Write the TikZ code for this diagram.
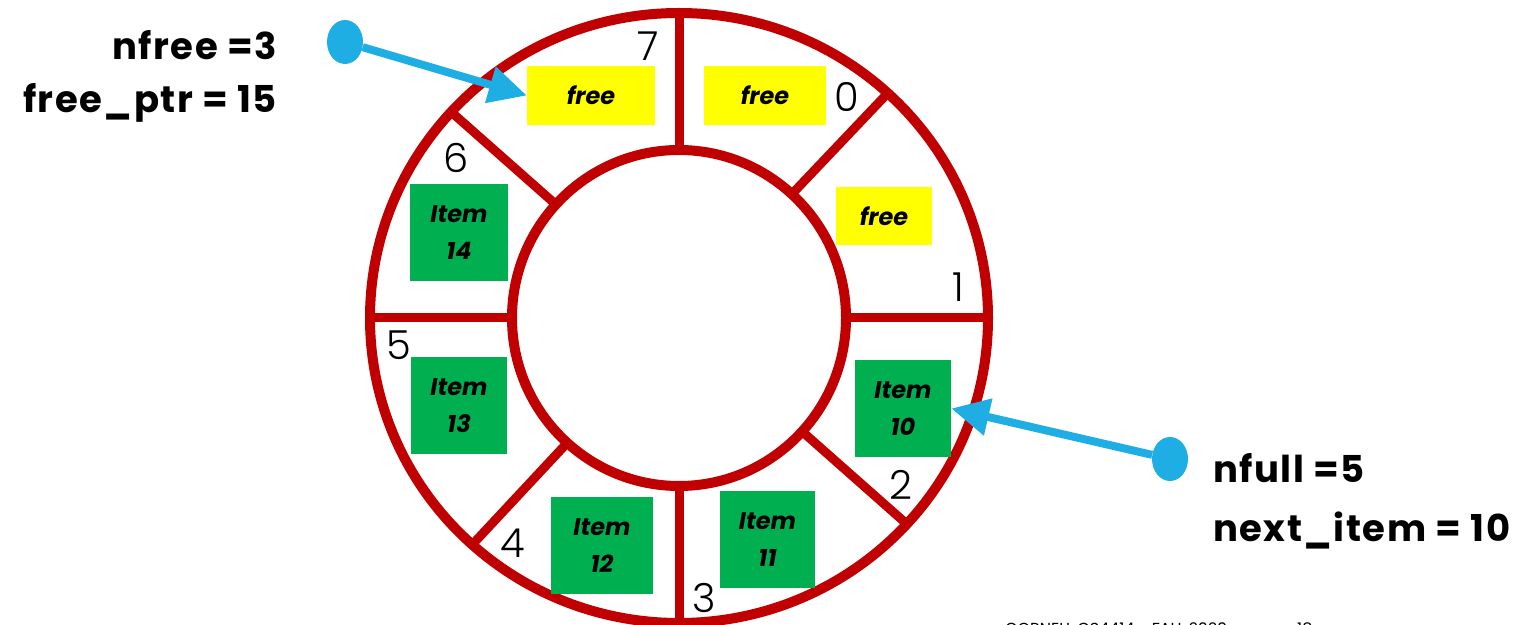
\documentclass[tikz,border=0pt]{standalone}
\usepackage{fontspec}
\setmainfont{Poppins}
\newfontfamily\numfont{Poppins Light}
\usetikzlibrary{arrows.meta,shapes.geometric}
\definecolor{ringred}{RGB}{192,0,0}
\definecolor{ptrblue}{RGB}{31,174,227}
\definecolor{itemgreen}{RGB}{0,176,80}
\definecolor{freeyellow}{RGB}{255,255,0}
\tikzset{
  ring/.style={draw=ringred, line width=10pt},
  freebox/.style={fill=freeyellow, inner sep=0pt, font=\fontsize{24}{28}\selectfont\bfseries\itshape},
  itembox/.style={fill=itemgreen, inner sep=0pt, align=center, font=\fontsize{24}{37}\selectfont\bfseries\itshape},
  slotnum/.style={font=\fontsize{40}{40}\selectfont\numfont, inner sep=0pt},
  ptrdot/.style={ellipse, fill=ptrblue, minimum width=36pt, minimum height=44pt, inner sep=0pt},
  ptrarrow/.style={draw=ptrblue, line width=8pt, -{Triangle[length=38pt,width=36pt]}},
  vartext/.style={font=\fontsize{37}{37}\selectfont\bfseries\addfontfeature{LetterSpace=4}, inner sep=0pt},
  foot/.style={font=\fontsize{16}{16}\selectfont, inner sep=0pt, anchor=base west}
}
\begin{document}
\begin{tikzpicture}[x=1pt,y=1pt]
\useasboundingbox (0,0) rectangle (1531,624);
\fill[white] (0,0) rectangle (1531,624);
% ring
\draw[ring] (679,306) ellipse [x radius=309, y radius=305];
\draw[ring] (679,306) ellipse [x radius=167, y radius=168];
\foreach \a in {90,47.5,0,-42.5,-90,-132,180,137.5}
  \draw[ring, line width=9pt] ({679+167*cos(\a)},{306+168*sin(\a)}) -- ({679+309*cos(\a)},{306+305*sin(\a)});
% slot contents
\node[freebox, minimum width=128pt, minimum height=59pt] (f7) at (591,528.5) {free};
\node[freebox, minimum width=122pt, minimum height=59pt] (f0) at (765,528.5) {free};
\node[freebox, minimum width=96pt, minimum height=58pt] (f1) at (884,408) {free};
\node[itembox, minimum width=98pt, minimum height=97pt] (i14) at (459,391.5) {Item\\14};
\node[itembox, minimum width=96pt, minimum height=97pt] (i13) at (459,218.5) {Item\\13};
\node[itembox, minimum width=102pt, minimum height=97pt] (i12) at (602,78.5) {Item\\12};
\node[itembox, minimum width=95pt, minimum height=97pt] (i11) at (767.5,84.5) {Item\\11};
\node[itembox, minimum width=96pt, minimum height=97pt] (i10) at (903,215.5) {Item\\10};
% slot numbers
\node[slotnum] (n7) at (648,578) {7};
\node[slotnum] (n0) at (847,527) {0};
\node[slotnum] (n1) at (958,337) {1};
\node[slotnum] (n2) at (901,139) {2};
\node[slotnum] (n3) at (704,26) {3};
\node[slotnum] (n4) at (513,81) {4};
\node[slotnum] (n5) at (399,279) {5};
\node[slotnum] (n6) at (456,466) {6};
% pointers
\node[ptrdot] (d1) at (345,582) {};
\node[ptrdot] (d2) at (1170,165) {};
\draw[ptrarrow] (d1) -- (f7.west);
\draw[ptrarrow] (d2) -- (i10.east);
% variables
\node[vartext, anchor=base east] (v1) at (277,564) {nfree =3};
\node[vartext, anchor=base east] (v2) at (277,511) {free\_ptr = 15};
\node[vartext, anchor=base west] (v3) at (1213,141) {nfull =5};
\node[vartext, anchor=base west] (v4) at (1213,82) {next\_item = 10};
% footer (cut by the page edge, as in the reference)
\node[foot] (ft) at (1005,-10) {CORNELL CS4414 - FALL 2020};
\node[foot] (pg) at (1297,-10) {18};
\end{tikzpicture}
\end{document}
